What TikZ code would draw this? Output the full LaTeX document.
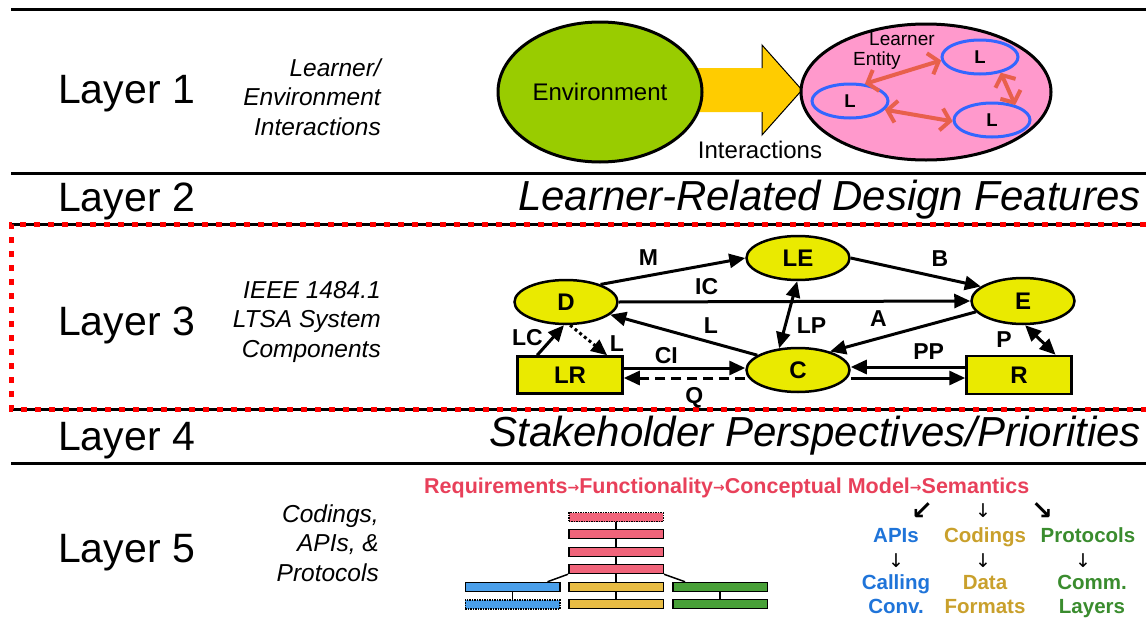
\documentclass[tikz,border=0pt]{standalone}
\usepackage{fontspec}
\setmainfont{Liberation Sans}
\newfontfamily\arrowfont{DejaVu Sans}
\usepackage{tikz}
\usetikzlibrary{shapes.geometric,arrows.meta}
\definecolor{colorenv}{HTML}{99CC00}
\definecolor{colorbig}{HTML}{FFCC00}
\definecolor{colorent}{HTML}{FF99CC}
\definecolor{colorlrn}{HTML}{3366FF}
\definecolor{colorint}{HTML}{E8604C}
\definecolor{colorcmp}{HTML}{EAEA00}
\definecolor{colorreq}{HTML}{E8405A}
\definecolor{colorpnk}{HTML}{F0647A}
\definecolor{colorapi}{HTML}{4A9FEA}
\definecolor{colorcod}{HTML}{E8BC44}
\definecolor{colorpro}{HTML}{48A038}
\definecolor{colorapit}{HTML}{1F74D9}
\definecolor{colorcodt}{HTML}{C9A02C}
\definecolor{colorprot}{HTML}{3A8C2E}
\tikzset{
  seprule/.style={black, line width=3pt},
  redbox/.style={red, line width=5pt, dash pattern=on 6pt off 8pt},
  layername/.style={inner sep=0pt, anchor=base west, font=\fontsize{41}{49}\selectfont},
  layertitle/.style={inner sep=0pt, anchor=base east, font=\fontsize{42}{50}\selectfont\itshape},
  layerdesc/.style={inner sep=0pt, anchor=base east, align=right,
    font=\fontsize{24.5}{29.5}\selectfont\itshape}
}
\tikzset{
  learner/.style={ellipse, draw=colorlrn, line width=3pt, inner sep=0pt,
    minimum width=76pt, minimum height=34pt, font=\fontsize{18.5}{20}\selectfont\bfseries},
  edgeint/.style={colorint, line width=4pt,
    {Straight Barb[length=9pt,width=22pt]}-{Straight Barb[length=9pt,width=22pt]}},
  comp/.style={draw, line width=2.5pt, fill=colorcmp, inner sep=0pt,
    font=\fontsize{24}{26}\selectfont\bfseries},
  compell/.style={comp, ellipse, minimum width=103pt, minimum height=44pt},
  comprect/.style={comp, rectangle, minimum width=105pt, minimum height=37pt},
  edgecmp/.style={black, line width=3pt, -{Triangle[length=16pt,width=14pt]}},
  edgebi/.style={edgecmp, {Triangle[length=16pt,width=14pt]}-{Triangle[length=16pt,width=14pt]}},
  lbl/.style={font=\fontsize{23}{25}\selectfont\bfseries, inner sep=6pt},
  bar/.style={draw, line width=1.5pt, minimum width=94.5pt, minimum height=9pt, inner sep=0pt},
  barlink/.style={black, line width=1.5pt},
  flowtxt/.style={inner sep=0pt, anchor=base, align=center, font=\fontsize{20.5}{24}\selectfont\bfseries},
  flowarr/.style={inner sep=0pt, font=\arrowfont\fontsize{19}{19}\selectfont},
  flowdiag/.style={inner sep=0pt, font=\arrowfont\bfseries\fontsize{26}{26}\selectfont}
}
\newcommand\smallra{{\arrowfont\fontsize{14}{14}\selectfont\raisebox{1pt}{→}}}

\begin{document}
\begin{tikzpicture}[x=1pt, y=-1pt]
\useasboundingbox (0,0) rectangle (1146,621);

% rules between the layers
\draw[seprule] (11,9) -- (1146,9);
\draw[seprule] (11,173) -- (1146,173);
\draw[seprule] (11,224) -- (1146,224);
\draw[seprule] (11,409) -- (1146,409);
\draw[seprule] (11,463) -- (1146,463);
\draw[redbox] (1146,224) -- (11,224) -- (11,409) -- (1146,409);

% layer names
\node[layername] (l1) at (58,103) {Layer 1};
\node[layername] (l2) at (58,211) {Layer 2};
\node[layername] (l3) at (58,335) {Layer 3};
\node[layername] (l4) at (58,450) {Layer 4};
\node[layername] (l5) at (58,562) {Layer 5};

\node[layerdesc] (d1) at (381,135) {Learner/\\Environment\\Interactions};
\node[layerdesc] (d3) at (381,357) {IEEE 1484.1\\LTSA System\\Components};
\node[layerdesc] (d5) at (379,581) {Codings,\\APIs, \&\\Protocols};

\node[layertitle] (t2) at (1141,210) {Learner-Related Design Features};
\node[layertitle] (t4) at (1141,446) {Stakeholder Perspectives/Priorities};

% layer 1
\fill[colorbig] (690,68) -- (762,68) -- (762,45) -- (802,90) -- (762,135)
  -- (762,112) -- (690,112) -- cycle;
\draw[line width=1pt] (762,68) -- (762,45) -- (802,90) -- (762,135) -- (762,112);
\node[ellipse, draw, line width=3pt, fill=colorenv, inner sep=0pt,
  minimum width=204pt, minimum height=140pt,
  font=\fontsize{24}{26}\selectfont] (env) at (600,92) {Environment};
\node[inner sep=0pt, anchor=base, font=\fontsize{24}{26}\selectfont] (inter)
  at (760,158) {Interactions};
\node[ellipse, draw, line width=3pt, fill=colorent, inner sep=0pt,
  minimum width=250pt, minimum height=136pt] (entity) at (926,92) {};
\node[inner sep=0pt, anchor=base west, align=left,
  font=\fontsize{19}{20}\selectfont] (entlbl) at (853,65)
  {\hspace*{16pt}Learner\\Entity};

\node[learner] (ltop) at (980,57) {L};
\node[learner] (lleft) at (850,101) {L};
\node[learner] (lbot) at (992,120) {L};

\draw[edgeint] (lleft.49) -- (ltop.185);
\draw[edgeint] (lleft.-14) -- (lbot.182);
\draw[edgeint] (ltop.-37) -- (lbot.33);

% layer 3
\node[compell] (D) at (566,302) {D};
\node[compell] (LE) at (798,258) {LE};
\node[compell, minimum height=46pt] (E) at (1023,301) {E};
\node[compell] (C) at (798,370) {C};
\node[comprect] (LR) at (570,375) {LR};
\node[comprect, minimum height=38pt] (R) at (1019,375) {R};

\draw[edgecmp] (D.27) to node[lbl, auto, pos=.45] {M} (LE.180);
\draw[edgecmp] (D.east) to node[lbl, auto, pos=.25] {IC} (E.west);
\draw[edgecmp] (C.160) to node[lbl, auto, swap, pos=.4, inner sep=4pt] {L} (D.-16);
\draw[edgebi] (LE.-92) to node[lbl, auto, pos=.43] {LP} (C.131);
\draw[edgecmp] (LE.east) to node[lbl, auto, pos=.565] {B} (E.161);
\draw[edgecmp] (E.-167) to node[lbl, auto, swap, pos=.56] {A} (C.30);
\draw[edgebi] (E.-85) to node[lbl, inner sep=0pt, pos=.5, left=27pt] {P} (R.29);
\draw[edgecmp] ([yshift=8pt]R.west) to node[lbl, auto, swap, pos=.32] {PP} ([yshift=3pt]C.east);
\draw[edgecmp] ([yshift=-8pt]C.east) -- ([yshift=-3pt]R.west);
\draw[edgecmp] ([yshift=7pt]LR.east) to node[lbl, auto, pos=.35, inner sep=3pt] {CI} ([yshift=2pt]C.west);
\draw[edgecmp, dash pattern=on 10pt off 6pt] ([yshift=-8pt]C.west)
  to node[lbl, auto, pos=.42, inner sep=8pt] {Q} ([yshift=-3pt]LR.east);
\draw[edgecmp] (LR.149) to node[lbl, inner sep=0pt, pos=.6, left=9pt] {LC} (D.-95);
\draw[edgecmp, dash pattern=on 3pt off 3pt] (D.-80)
  to node[lbl, inner sep=0pt, pos=.6, right=16pt] {L} (LR.28);

% layer 5
\node[inner sep=0pt, anchor=base west, text=colorreq,
  font=\fontsize{21.5}{24}\selectfont\bfseries] (reqs) at (424,493)
  {Requirements\smallra Functionality\smallra Conceptual Model\smallra Semantics};

\node[bar, fill=colorpnk, densely dotted] (pk1) at (616,517) {};
\node[bar, fill=colorpnk] (pk2) at (616,534) {};
\node[bar, fill=colorpnk] (pk3) at (616,552) {};
\node[bar, fill=colorpnk] (pk4) at (616,569) {};
\node[bar, fill=colorapi] (bl1) at (512.5,587) {};
\node[bar, fill=colorcod] (yl1) at (616,587) {};
\node[bar, fill=colorpro] (gr1) at (720,587) {};
\node[bar, fill=colorapi, densely dotted] (bl2) at (512.5,604.5) {};
\node[bar, fill=colorcod] (yl2) at (616,604) {};
\node[bar, fill=colorpro] (gr2) at (720,604) {};

\draw[barlink] (pk1) -- (pk2);
\draw[barlink] (pk2) -- (pk3);
\draw[barlink] (pk3) -- (pk4);
\draw[barlink] (pk4) -- (yl1);
\draw[barlink] (yl1) -- (yl2);
\draw[barlink] (bl1) -- (bl2);
\draw[barlink] (gr1) -- (gr2);
\draw[barlink] (pk4.south west) -- ([xshift=-13pt]bl1.north east);
\draw[barlink] (pk4.south east) -- ([xshift=13pt]gr1.north west);

\node[flowdiag] (dl) at (922,511) {↙};
\node[flowarr] (dm) at (983,511) {↓};
\node[flowdiag] (dr) at (1042,511) {↘};
\node[flowtxt, text=colorapit] (apis) at (896,542) {APIs};
\node[flowtxt, text=colorcodt] (cods) at (985,542) {Codings};
\node[flowtxt, text=colorprot] (prots) at (1088,542) {Protocols};
\node[flowarr] (da) at (896,561) {↓};
\node[flowarr] (dc) at (983,561) {↓};
\node[flowarr] (dp) at (1083,561) {↓};
\node[flowtxt, text=colorapit] (calls) at (896,613) {Calling\\Conv.};
\node[flowtxt, text=colorcodt] (forms) at (985,613) {Data\\Formats};
\node[flowtxt, text=colorprot] (comms) at (1092,613) {Comm.\\Layers};
\end{tikzpicture}
\end{document}
